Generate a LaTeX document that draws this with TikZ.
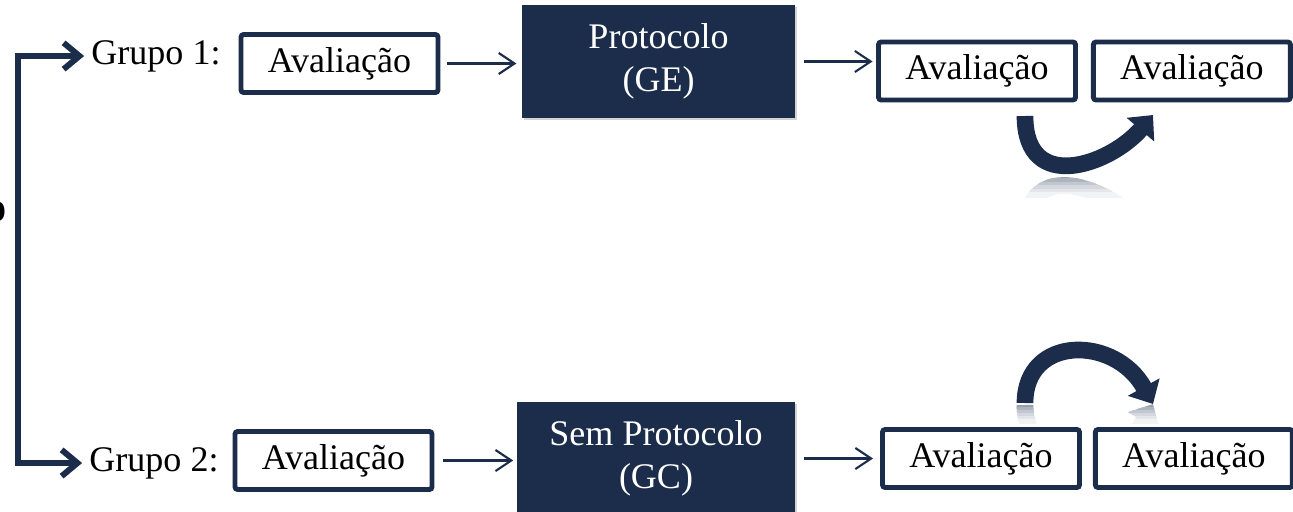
\documentclass[tikz,border=0pt]{standalone}
\usepackage{fontspec}
\setmainfont{Liberation Serif}
\usetikzlibrary{positioning,arrows.meta,shadows}

\definecolor{navy}{HTML}{1B2D4B}
\tikzset{
  txt/.style={font=\fontsize{20.5}{24.5}\selectfont},
  aval/.style={rectangle, draw=navy, line width=2.8pt, rounded corners=1.5pt, fill=white,
    minimum width=3.94cm, minimum height=1.16cm, inner sep=0pt, txt},
  proto/.style={rectangle, fill=navy, text=white, minimum height=2.26cm, align=center, txt,
    drop shadow={opacity=0.35, shadow xshift=1.2pt, shadow yshift=-1.2pt}},
  grupo/.style={inner sep=0pt, txt},
  seta/.style={-{Straight Barb[length=9pt,width=12pt]}, navy, line width=1.2pt},
  chave/.style={{Straight Barb[length=9pt,width=15pt]}-{Straight Barb[length=9pt,width=15pt]},
    navy, line width=3.4pt, shorten <=4pt, shorten >=4pt},
  curva/.style={-{Triangle[length=11pt,width=20pt]}, navy, line width=9.5pt},
  reflexo/.style={-{Triangle[length=11pt,width=20pt]}, line width=9.5pt},
}

\begin{document}
\begin{tikzpicture}[x=0.02cm, y=-0.02cm]
  \useasboundingbox (0,0) rectangle (1293,511);

  \node[inner sep=0pt, anchor=east, font=\fontsize{24}{28}\selectfont\bfseries] (cut) at (7,212) {o};

  \node[grupo] (g1) at (156,56) {Grupo 1:};
  \node[grupo] (g2) at (154,463) {Grupo 2:};
  \coordinate (spine) at (18,260);

  \node[aval] (a1) at (339.5,63.5) {Avaliação};
  \node[proto, minimum width=5.46cm] (p1) at (658.5,61.5) {Protocolo\\(GE)};
  \node[aval] (a2) at (977,71) {Avaliação};
  \node[aval] (a3) [right=0.26cm of a2] {Avaliação};

  \node[aval] (b1) at (333.5,460.5) {Avaliação};
  \node[proto, minimum width=5.56cm] (s1) at (656,458.5) {Sem Protocolo\\(GC)};
  \node[aval] (b2) at (981,458.5) {Avaliação};
  \node[aval] (b3) [right=0.22cm of b2] {Avaliação};

  \draw[chave] (g1.west) -| (spine) |- (g2.west);

  \draw[seta, shorten <=4pt, shorten >=3pt] (a1.east) -- (a1.east -| p1.west);
  \draw[seta, shorten <=5pt, shorten >=2pt] (p1.east) -- (p1.east -| a2.west);
  \draw[seta, shorten <=5pt, shorten >=2pt] (b1.east) -- (b1.east -| s1.west);
  \draw[seta, shorten <=5pt, shorten >=4pt] (s1.east) -- (s1.east -| b2.west);

  \coordinate (c1s) at (1025,116);
  \coordinate (c1e) at (1153,115);
  \coordinate (c2s) at (1025,403);
  \coordinate (c2e) at (1153,404);

  \foreach \k/\pc in {0/45,1/36,2/27,3/19,4/12,5/6} {
    \begin{scope}
      \clip (1000,175+3.5*\k) rectangle (1185,179.5+3.5*\k);
      \draw[reflexo, -, navy!\pc!white] (1025,234) .. controls (1025,155) and (1110,185) .. (1153,235);
    \end{scope}
    \begin{scope}
      \clip (1000,404+3*\k) rectangle (1185,408+3*\k);
      \draw[reflexo, navy!\pc!white] (1025,405) .. controls (1025,473) and (1115,473) .. (1153,404);
    \end{scope}
  }
  \draw[curva] (c1s) .. controls (1025,195) and (1110,165) .. (c1e);
  \draw[curva] (c2s) .. controls (1025,335) and (1115,335) .. (c2e);
\end{tikzpicture}
\end{document}
